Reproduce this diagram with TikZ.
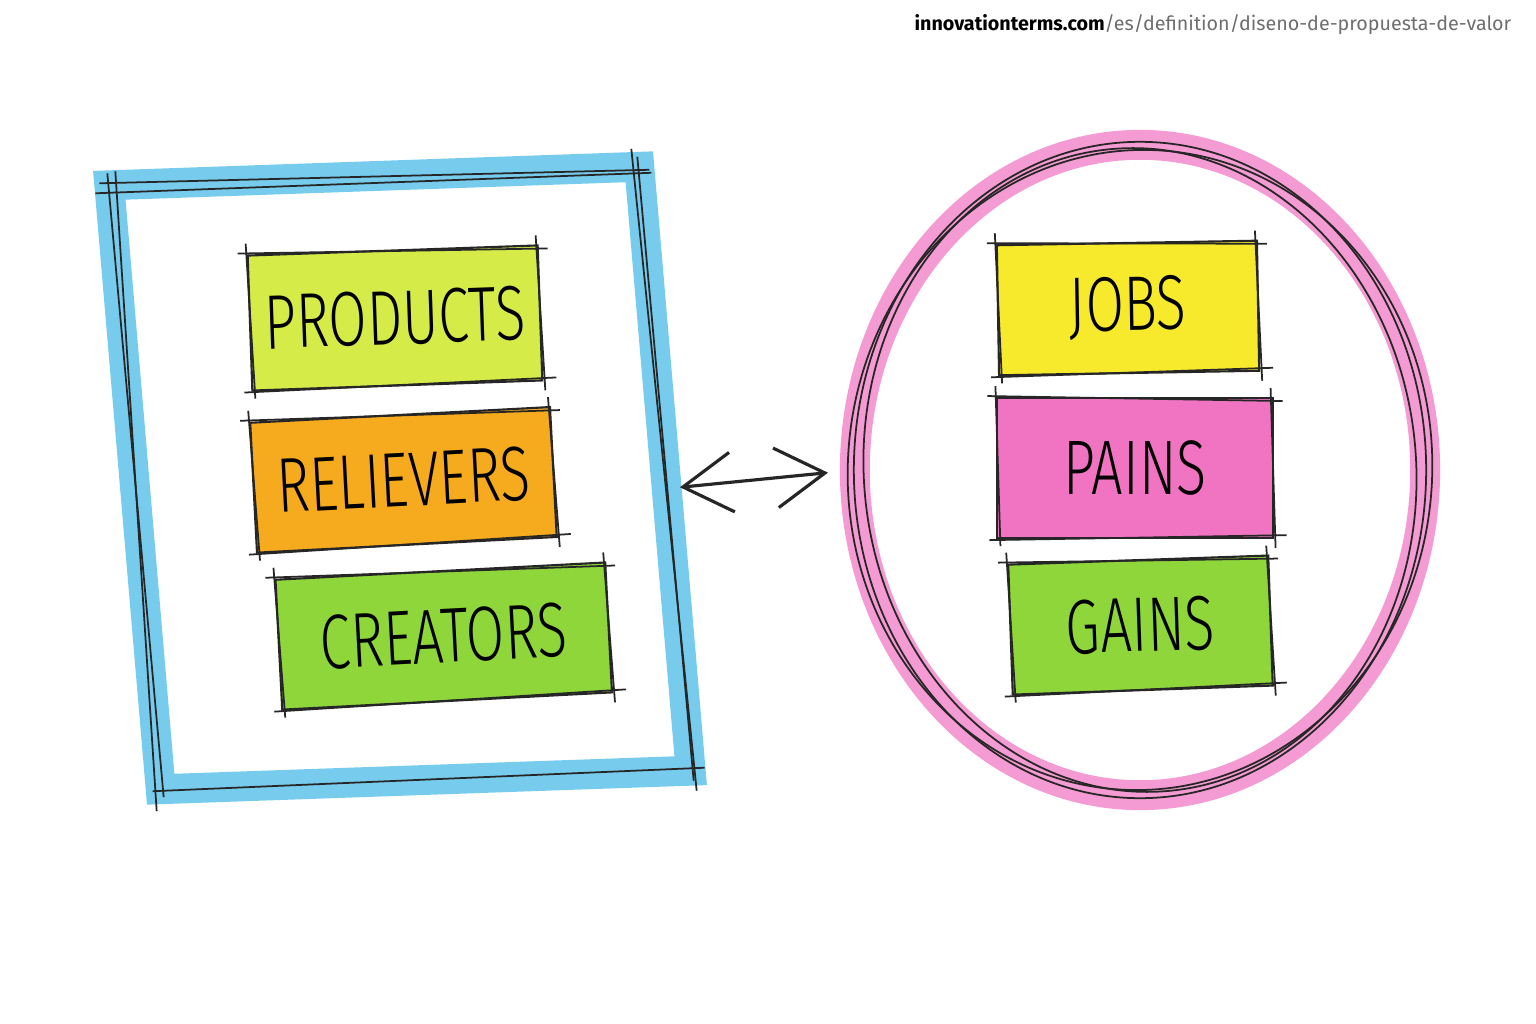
\documentclass[tikz,border=0pt]{standalone}
\usepackage{fontspec}
\setmainfont{Fira Sans}
\newfontfamily\handfont{Fira Sans}[UprightFont=* Light, FakeStretch=0.72]
\usetikzlibrary{positioning,shapes.geometric,arrows.meta}

\definecolor{washblue}{HTML}{55C0EA}
\definecolor{washpink}{HTML}{F282C8}
\definecolor{limecard}{HTML}{D4EB48}
\definecolor{orangecard}{HTML}{F6AA1E}
\definecolor{greencard}{HTML}{8ED63A}
\definecolor{yellowcard}{HTML}{F7EA2C}
\definecolor{pinkcard}{HTML}{F074C2}
\definecolor{urlgray}{HTML}{6E6E6E}

\tikzset{
  ink/.style={draw=black!85, line width=0.5pt},
  card/.style={rectangle, draw=black!85, line width=0.6pt, inner sep=0pt, outer sep=0pt,
    font=\handfont\fontsize{22}{24}\selectfont},
  wash/.style={line width=8.5pt, opacity=0.8}
}

% loose pencil lines round a node
\newcommand{\roughbox}[1]{%
  \draw[ink] ([shift={(-10,-2)}]#1.north west) -- ([shift={(10,3)}]#1.north east)
             ([shift={(-2,-10)}]#1.north east) -- ([shift={(3,10)}]#1.south east)
             ([shift={(14,-3)}]#1.south east) -- ([shift={(-8,2)}]#1.south west)
             ([shift={(3,8)}]#1.south west) -- ([shift={(-2,-12)}]#1.north west);}

\begin{document}
\begin{tikzpicture}[x=0.01cm, y=-0.01cm]
    \useasboundingbox[fill=white] (0,0) rectangle (1536,1024);

    \node (url) [anchor=base east, inner sep=0pt, font=\fontsize{5.6}{7}\selectfont] at (1512,31)
        {\textbf{innovationterms.com}\textcolor{urlgray}{/es/definition/diseno-de-propuesta-de-valor}};

    % value map
    \node (frame) [rectangle, draw=washblue, wash, minimum width=5.3cm, minimum height=6.05cm,
        outer sep=0pt, rotate=2, xslant=-0.05] at (400,478) {};
    \roughbox{frame}
    \draw[ink] ([shift={(6,-14)}]frame.north west) -- ([shift={(-4,22)}]frame.south west)
               ([shift={(-8,-18)}]frame.north east) -- ([shift={(6,20)}]frame.south east)
               ([shift={(-14,8)}]frame.north west) -- ([shift={(12,6)}]frame.north east);

    \node (products) [card, fill=limecard, minimum width=2.9cm, minimum height=1.35cm, rotate=2]
        at (395,318) {PRODUCTS};
    \node (relievers) [card, fill=orangecard, minimum width=3.0cm, minimum height=1.3cm, rotate=3,
        below of=products, node distance=1.62cm] {RELIEVERS};
    \node (creators) [card, fill=greencard, minimum width=3.3cm, minimum height=1.3cm, rotate=3,
        below of=relievers, node distance=1.58cm, xshift=0.32cm] {CREATORS};
    \roughbox{products}
    \roughbox{relievers}
    \roughbox{creators}

    % customer profile
    \node (circle) [ellipse, draw=washpink, wash, minimum width=5.7cm, minimum height=6.5cm,
        outer sep=0pt] at (1140,470) {};
    \draw[ink] (circle.center) ellipse [x radius=2.86cm, y radius=3.28cm];
    \draw[ink, rotate around={5:(circle.center)}] (circle.center) ellipse [x radius=2.76cm, y radius=3.22cm];
    \draw[ink, rotate around={-4:(circle.center)}] (circle.center) ellipse [x radius=2.92cm, y radius=3.2cm];

    \node (jobs) [card, fill=yellowcard, minimum width=2.6cm, minimum height=1.3cm, rotate=1]
        at (1128,308) {JOBS};
    \node (pains) [card, fill=pinkcard, minimum width=2.75cm, minimum height=1.4cm,
        below of=jobs, node distance=1.6cm, xshift=0.07cm] {PAINS};
    \node (gains) [card, fill=greencard, minimum width=2.6cm, minimum height=1.3cm, rotate=2,
        below of=pains, node distance=1.57cm] {GAINS};
    \roughbox{jobs}
    \roughbox{pains}
    \roughbox{gains}

    \draw[ink, line width=0.9pt, {Straight Barb[length=14pt,width=17pt]}-{Straight Barb[length=14pt,width=17pt]},
        shorten <=0.15cm, shorten >=0.27cm] ([yshift=-0.2cm]frame.east) -- (circle.west);
\end{tikzpicture}
\end{document}
